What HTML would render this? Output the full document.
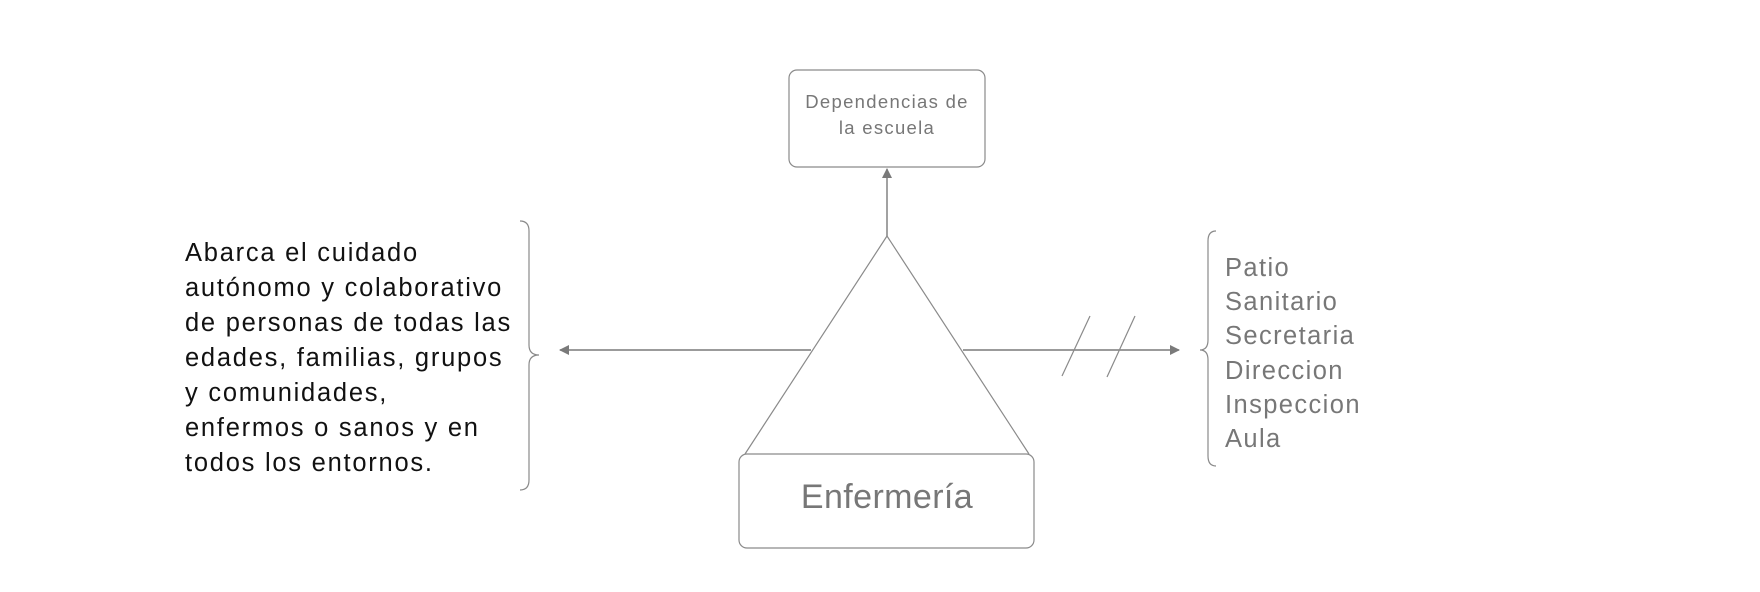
<!DOCTYPE html>
<html><head><meta charset="utf-8"><style>
body{margin:0;background:#fff;}
svg{display:block;}
text{font-family:"Liberation Sans",sans-serif;}
</style></head><body>
<svg width="1760" height="592" viewBox="0 0 1760 592" xmlns="http://www.w3.org/2000/svg">
<defs><marker id="ah" markerWidth="10" markerHeight="10" refX="9" refY="5" orient="auto" markerUnits="userSpaceOnUse"><path d="M0,0 L10,5 L0,10 Z" fill="#7a7a7a"/></marker></defs>
<g transform="translate(-4,-1)">
<g stroke="#8a8a8a" stroke-width="1.2" fill="none">
<rect x="793" y="71" width="196" height="97" rx="8" fill="#fff"/>
<line x1="891" y1="237" x2="891" y2="170" marker-end="url(#ah)" stroke="#7a7a7a" stroke-width="1.4"/>
<path d="M891,237 L749,455 M891,237 L1033,455"/>
<rect x="743" y="455" width="295" height="94" rx="8" fill="#fff"/>
<line x1="815" y1="351" x2="564" y2="351" marker-end="url(#ah)" stroke="#7a7a7a" stroke-width="1.4"/>
<line x1="967" y1="351" x2="1183" y2="351" marker-end="url(#ah)" stroke="#7a7a7a" stroke-width="1.4"/>
<line x1="1066" y1="377" x2="1094" y2="317"/>
<line x1="1111" y1="378" x2="1139" y2="317"/>
<path d="M524,222 Q533,222 533,232 L533,346 Q533,356 543,356 Q533,356 533,366 L533,481 Q533,491 524,491"/>
<path d="M1220,232 Q1212,232 1212,242 L1212,341 Q1212,351 1204,351 Q1212,351 1212,361 L1212,457 Q1212,467 1220,467"/>
</g>
<text x="891" y="109" text-anchor="middle" font-size="18.5" letter-spacing="1.3" fill="#777">Dependencias de</text>
<text x="891" y="135" text-anchor="middle" font-size="18.5" letter-spacing="1.3" fill="#777">la escuela</text>
<text x="891" y="509" text-anchor="middle" font-size="34" letter-spacing="0.4" fill="#777">Enfermería</text>
</g>
<g font-size="25.5" letter-spacing="1.75" fill="#111">
<text x="185" y="261">Abarca el cuidado</text>
<text x="185" y="296">autónomo y colaborativo</text>
<text x="185" y="331">de personas de todas las</text>
<text x="185" y="366">edades, familias, grupos</text>
<text x="185" y="401">y comunidades,</text>
<text x="185" y="436">enfermos o sanos y en</text>
<text x="185" y="471">todos los entornos.</text>
</g>
<g font-size="25.5" letter-spacing="1.4" fill="#777">
<text x="1225" y="276">Patio</text>
<text x="1225" y="310">Sanitario</text>
<text x="1225" y="344">Secretaria</text>
<text x="1225" y="379">Direccion</text>
<text x="1225" y="413">Inspeccion</text>
<text x="1225" y="447">Aula</text>
</g>
</svg>
</body></html>
